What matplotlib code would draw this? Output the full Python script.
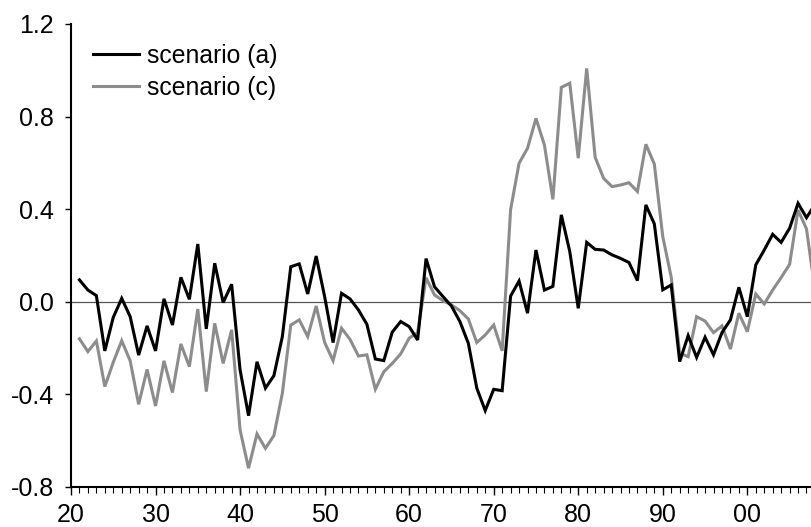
import matplotlib
matplotlib.use("Agg")
import matplotlib.pyplot as plt
from matplotlib.ticker import FixedLocator, MultipleLocator, FuncFormatter

years = list(range(1921, 2009))

scenario_a = [
    0.094, 0.050, 0.026, -0.213, -0.068, 0.014, -0.065, -0.231, -0.105, -0.213,
    0.012, -0.101, 0.105, 0.010, 0.249, -0.118, 0.166, -0.004, 0.075, -0.295,
    -0.493, -0.260, -0.374, -0.320, -0.151, 0.151, 0.163, 0.033, 0.197, 0.022,
    -0.177, 0.036, 0.012, -0.036, -0.098, -0.248, -0.255, -0.132, -0.086, -0.108,
    -0.166, 0.186, 0.064, 0.022, -0.019, -0.086, -0.180, -0.374, -0.471, -0.379,
    -0.385, 0.024, 0.089, -0.050, 0.223, 0.050, 0.066, 0.375, 0.216, -0.029,
    0.256, 0.226, 0.223, 0.202, 0.187, 0.169, 0.091, 0.418, 0.336, 0.051,
    0.072, -0.259, -0.147, -0.241, -0.154, -0.230, -0.134, -0.079, 0.062, -0.065,
    0.159, 0.223, 0.291, 0.256, 0.317, 0.425, 0.363, 0.420,
]

scenario_c = [
    -0.161, -0.216, -0.170, -0.367, -0.262, -0.169, -0.256, -0.444, -0.293, -0.451,
    -0.256, -0.393, -0.183, -0.281, -0.032, -0.389, -0.094, -0.267, -0.122, -0.555,
    -0.720, -0.572, -0.634, -0.579, -0.396, -0.101, -0.079, -0.151, -0.019, -0.176,
    -0.255, -0.115, -0.163, -0.235, -0.230, -0.379, -0.303, -0.267, -0.226, -0.158,
    -0.134, 0.103, 0.029, 0.004, -0.014, -0.039, -0.075, -0.177, -0.144, -0.101,
    -0.213, 0.398, 0.598, 0.663, 0.792, 0.677, 0.442, 0.926, 0.944, 0.620,
    1.008, 0.624, 0.533, 0.497, 0.504, 0.514, 0.476, 0.680, 0.595, 0.281,
    0.105, -0.223, -0.238, -0.065, -0.084, -0.134, -0.105, -0.205, -0.050, -0.130,
    0.033, -0.010, 0.050, 0.104, 0.161, 0.396, 0.314, 0.050,
]

labels = ["scenario (a)", "scenario (c)"]
decade_ticks = list(range(1920, 2001, 10))
y_ticks = [-0.8, -0.4, 0.0, 0.4, 0.8, 1.2]

plt.rcParams["font.family"] = ["Liberation Sans", "DejaVu Sans"]
plt.rcParams["axes.unicode_minus"] = False

W, H = 811, 527
fig = plt.figure(figsize=(W / 100, H / 100), dpi=100)
left_px, right_px, top_px, bottom_px = 71, 811, 24, 486.7
ax = fig.add_axes([left_px / W, 1 - bottom_px / H,
                   (right_px - left_px) / W, (bottom_px - top_px) / H])

ax.axhline(0.0, color="#555555", lw=0.9, zorder=1)
ln_c, = ax.plot(years, scenario_c, color="#8c8c8c", lw=2.2, zorder=2,
                solid_joinstyle="miter")
ln_a, = ax.plot(years, scenario_a, color="#000000", lw=2.2, zorder=3,
                solid_joinstyle="miter")

ax.set_xlim(1920, 1920 + (right_px - left_px) / 8.454)
ax.set_ylim(-0.8, 1.2)

for side in ("top", "right"):
    ax.spines[side].set_visible(False)
for side in ("left", "bottom"):
    ax.spines[side].set_linewidth(1.5)

ax.xaxis.set_major_locator(FixedLocator(decade_ticks))
ax.xaxis.set_minor_locator(MultipleLocator(1))
ax.xaxis.set_major_formatter(FuncFormatter(lambda v, p: f"{int(round(v)) % 100:02d}"))
ax.yaxis.set_major_locator(FixedLocator(y_ticks))
ax.yaxis.set_major_formatter(FuncFormatter(lambda v, p: f"{v:.1f}"))

ax.tick_params(axis="x", which="major", direction="out", length=5.6, width=1.0,
               pad=5.8, labelsize=18)
ax.tick_params(axis="x", which="minor", direction="out", length=4.6, width=0.8)
ax.tick_params(axis="y", which="major", direction="out", length=4.5, width=1.0,
               pad=7.6, labelsize=18)

ax.legend([ln_a, ln_c], labels, loc="upper left",
          bbox_to_anchor=(93 / W, 1 - 44 / H), bbox_transform=fig.transFigure,
          frameon=False, fontsize=17.8, handlelength=1.87, handletextpad=0.3,
          labelspacing=0.32, borderpad=0, borderaxespad=0)

fig.savefig("out.png", dpi=100)
